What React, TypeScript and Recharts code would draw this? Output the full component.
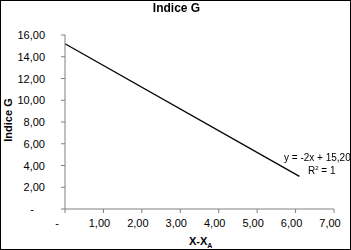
import { LineChart, Line, XAxis, YAxis } from 'recharts';

// trend line points
const xValues = [0, 6.1];
const indiceG = [15.2, 3.0];

const xTicks = [0, 1, 2, 3, 4, 5, 6, 7];
const yTicks = [0, 2, 4, 6, 8, 10, 12, 14, 16];

const equation = 'y = -2x + 15,20';

const data = xValues.map((x, i) => ({ x, g: indiceG[i] }));

const fmt = (v: number) => (v === 0 ? '-' : v.toFixed(2).replace('.', ','));

const XTick = (props: any) => {
  const { x, y, payload } = props;
  const v = payload.value;
  return (
    <text x={x + (v === 0 ? -8 : -4)} y={y + 12} textAnchor="middle" fontSize={11} fill="#000">
      {fmt(v)}
    </text>
  );
};

const YTick = (props: any) => {
  const { y, payload } = props;
  const v = payload.value;
  return (
    <text x={v === 0 ? 34 : 45} y={y + 4} textAnchor="end" fontSize={11} fill="#000">
      {fmt(v)}
    </text>
  );
};

export default function App() {
  return (
    <div
      style={{
        position: 'fixed',
        left: 0,
        top: 0,
        width: 351,
        height: 250,
        border: '1px solid #000',
        boxSizing: 'border-box',
        background: '#fff',
        fontFamily: '"Liberation Sans", Arial, sans-serif',
      }}
    >
      <div style={{ position: 'absolute', left: -1, top: -1 }}>
        <LineChart width={351} height={250} data={data} margin={{ top: 35, right: 17, left: 15, bottom: 11 }}>
          <XAxis
            dataKey="x"
            type="number"
            domain={[0, 7]}
            ticks={xTicks}
            interval={0}
            stroke="#808080"
            tickSize={4}
            tick={<XTick />}
            height={30}
          />
          <YAxis
            type="number"
            domain={[0, 16]}
            ticks={yTicks}
            interval={0}
            stroke="#808080"
            tickSize={4}
            tick={<YTick />}
            width={50}
          />
          <Line
            dataKey="g"
            stroke="#000"
            strokeWidth={1.3}
            dot={false}
            isAnimationActive={false}
          />
        </LineChart>
      </div>
      <div style={{ position: 'absolute', left: 0, width: 351, top: 0, textAlign: 'center', fontWeight: 'bold', fontSize: 12 }}>
        Indice G
      </div>
      <div
        style={{
          position: 'absolute',
          left: 7,
          top: 119,
          transform: 'translate(-50%, -50%) rotate(-90deg)',
          fontWeight: 'bold',
          fontSize: 11,
          whiteSpace: 'nowrap',
        }}
      >
        Indice G
      </div>
      <div style={{ position: 'absolute', left: 188, top: 234, fontWeight: 'bold', fontSize: 11, whiteSpace: 'nowrap' }}>
        X-X<sub style={{ fontSize: 7 }}>A</sub>
      </div>
      <div style={{ position: 'absolute', left: 283, top: 151, fontSize: 10, whiteSpace: 'nowrap' }}>{equation}</div>
      <div style={{ position: 'absolute', left: 307, top: 164, fontSize: 10, whiteSpace: 'nowrap' }}>
        R<sup style={{ fontSize: 6 }}>2</sup> = 1
      </div>
    </div>
  );
}
